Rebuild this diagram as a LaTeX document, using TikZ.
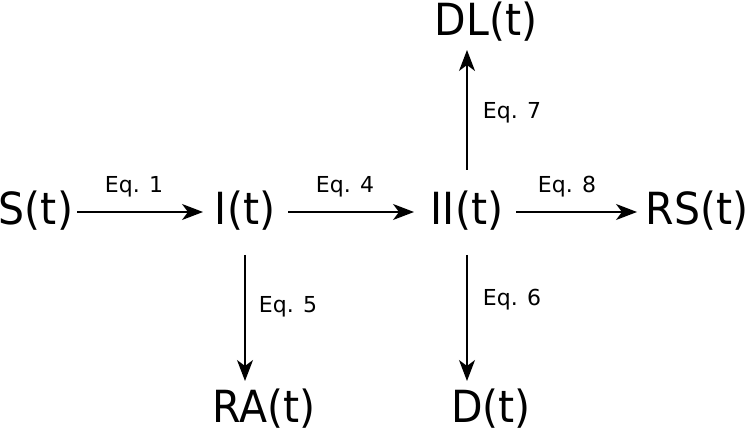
\documentclass[tikz,border=0pt]{standalone}
\usepackage{fontspec}
\setmainfont{DejaVu Sans}
\usetikzlibrary{arrows.meta}
\newcommand{\tallbig}[1]{\scalebox{1}[1.08]{#1}}
\tikzset{
  big/.style={inner sep=0pt, font=\fontsize{41}{41}\selectfont},
  lbl/.style={inner sep=0pt, font=\fontsize{22}{22}\selectfont},
  flow/.style={line width=1.3pt, -{Stealth[length=21pt,width=16pt,inset=6pt]}}
}
\begin{document}
\begin{tikzpicture}[x=1pt,y=-1pt]
\useasboundingbox (0,0) rectangle (747,435);
\node[big] (S) at (36,211) {\tallbig{S(t)}};
\node[big] (I) at (245,211) {\tallbig{I(t)}};
\node[big] (II) at (467,211) {\tallbig{II(t)}};
\node[big] (RS) at (697,211) {\tallbig{RS(t)}};
\node[big] (DL) at (486,22) {\tallbig{DL(t)}};
\node[big] (RA) at (264,409) {\tallbig{RA(t)}};
\node[big] (D) at (491,409) {\tallbig{D(t)}};
\coordinate (s1) at (77,212); \coordinate (e1) at (203,212);
\coordinate (s4) at (288,212); \coordinate (e4) at (414,212);
\coordinate (s8) at (516,212); \coordinate (e8) at (637,212);
\coordinate (s5) at (245,255); \coordinate (e5) at (245,381);
\coordinate (s6) at (467,255); \coordinate (e6) at (467,381);
\coordinate (s7) at (467,170); \coordinate (e7) at (467,50);
\draw[flow] (s1) -- (e1);
\draw[flow] (s4) -- (e4);
\draw[flow] (s8) -- (e8);
\draw[flow] (s5) -- (e5);
\draw[flow] (s6) -- (e6);
\draw[flow] (s7) -- (e7);
\node[lbl] (l1) at (134,187) {Eq. 1};
\node[lbl] (l4) at (345,187) {Eq. 4};
\node[lbl] (l8) at (567,187) {Eq. 8};
\node[lbl] (l5) at (288,307) {Eq. 5};
\node[lbl] (l6) at (512,300) {Eq. 6};
\node[lbl] (l7) at (512,113) {Eq. 7};
\end{tikzpicture}
\end{document}
